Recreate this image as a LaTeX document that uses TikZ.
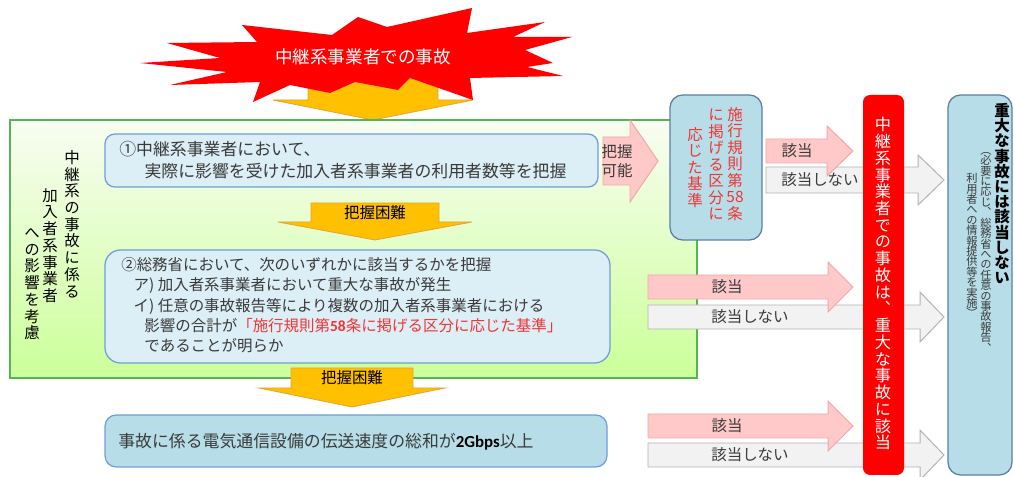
\documentclass[tikz,border=0pt]{standalone}
\usepackage{fontspec}
\setmainfont{Noto Sans CJK JP}
\newfontfamily\tatefont[RawFeature=+vert]{Noto Sans CJK JP}
\newfontfamily\latinfont{Carlito}
\usetikzlibrary{fit,positioning}

\definecolor{boxblue}{HTML}{DCEEF6}
\definecolor{boxline}{HTML}{6E9FDB}
\definecolor{boxdeep}{HTML}{B7DEE8}
\definecolor{boxdeepline}{HTML}{5A7FA6}
\definecolor{greenline}{HTML}{55B455}
\definecolor{greentop}{HTML}{F8FDF2}
\definecolor{greenfill}{HTML}{CCFF99}
\definecolor{arrowyellow}{HTML}{FFC000}
\definecolor{arrowyellowline}{HTML}{E5A33A}
\definecolor{pinkfill}{HTML}{FFC9C9}
\definecolor{pinkline}{HTML}{F4A6A6}
\definecolor{greyfill}{HTML}{F2F2F2}
\definecolor{greyline}{HTML}{B3B3B3}
\definecolor{textgrey}{HTML}{3A3A3A}
\definecolor{rulered}{HTML}{F03535}

% one character per line, for vertical text
\def\tateend{\tateend}
\def\tatestep#1{\ifx\tateend#1\else\hbox to 1.4em{\hss#1\hss}\expandafter\tatestep\fi}
\newcommand{\tatechars}[1]{\vbox{\lineskiplimit=-20pt\lineskip=0pt\tatestep#1\tateend}}

% block arrows: style, x0, x1, xtip, ymid, body half, head half
\newcommand{\rightblock}[7]{\path[#1] (#2,#5-#6) -- (#3,#5-#6) -- (#3,#5-#7) -- (#4,#5) -- (#3,#5+#7) -- (#3,#5+#6) -- (#2,#5+#6) -- cycle;}
% style, xc, ytop, ybase, ytip, body half, head half
\newcommand{\downblock}[7]{\path[#1] (#2-#6,#3) -- (#2+#6,#3) -- (#2+#6,#4) -- (#2+#7,#4) -- (#2,#5) -- (#2-#7,#4) -- (#2-#6,#4) -- cycle;}

\begin{document}
\begin{tikzpicture}[
    x=0.025cm, y=-0.025cm,
    every node/.style={inner sep=0, text=textgrey},
    tate/.style n args={2}{font=\tatefont\fontsize{#1}{#2}\selectfont},
    yoko/.style n args={2}{align=left, font=\fontsize{#1}{#2}\selectfont},
    lightbox/.style={draw=boxline, line width=0.9pt, fill=boxblue, rounded corners=7pt},
    deepbox/.style={draw=boxdeepline, line width=0.9pt, fill=boxdeep, rounded corners=8pt},
    holdarrow/.style={fill=arrowyellow, draw=arrowyellowline, line width=0.6pt},
    yesarrow/.style={fill=pinkfill, draw=pinkline, line width=0.7pt},
    noarrow/.style={fill=greyfill, draw=greyline, line width=0.7pt},
    arrowlabel/.style={font=\fontsize{11}{13}\selectfont}]

\useasboundingbox (0,0) rectangle (1014,477);

% accident burst
\downblock{holdarrow}{373}{70}{100}{120}{65}{100}
\fill[red] (167,43) -- (257,42) -- (242,25) -- (332,35) -- (358,17) -- (387,27) -- (472,8) -- (467,33)
  -- (545,22) -- (513,37) -- (572,37) -- (525,50) -- (553,63) -- (527,67) -- (563,76) -- (470,78)
  -- (473,100) -- (410,78) -- (398,90) -- (355,82) -- (330,93) -- (290,85) -- (253,102) -- (260,82)
  -- (170,85) -- (227,72) -- (140,63) -- (220,58) -- cycle;
\node[text=white, font=\fontsize{12.5}{14}\selectfont] (accident) at (363,57) {中継系事業者での事故};

% impact on subscriber carriers
\node[draw=greenline, line width=1.1pt, top color=greentop, bottom color=greenfill, fit={(10,120) (697,378)}] (impact) {};
\node[tate={11}{11.9}, text=black, anchor=north] (impactA) at (72,150) {\tatechars{中継系の事故に係る}};
\node[tate={11}{11.9}, text=black, anchor=north] (impactB) at (50,188) {\tatechars{加入者系事業者}};
\node[tate={11}{11.9}, text=black, anchor=north] (impactC) at (32,228) {\tatechars{への影響を考慮}};

\node[lightbox, fit={(105,134) (598,187)}] (relayCount) {};
\node[yoko={12}{15.6}, anchor=north west] (relayCountText) at (119,141)
  {①中継系事業者において、\\\hspace*{1.5em}実際に影響を受けた加入者系事業者の利用者数等を把握};

\rightblock{yesarrow}{603}{630}{658}{161}{24}{41}
\node[yoko={11}{13.5}] (possible) at (617,161) {把握\\可能};

\node[deepbox, rounded corners=9pt, fit={(670,95) (762,240)}] (criteria) {};
\node[tate={11}{11.7}, text=rulered, anchor=north] (criteriaA) at (735,107) {\tatechars{施行規則第{58}条}};
\node[tate={11}{11.7}, text=rulered, anchor=north] (criteriaB) at (716,109) {\tatechars{に掲げる区分に}};
\node[tate={11}{11.7}, text=rulered, anchor=north] (criteriaC) at (695,127) {\tatechars{応じた基準}};

\node[lightbox, rounded corners=11pt, fit={(105,250) (610,363)}] (ministry) {};
\node[yoko={11}{14.5}, anchor=north west] (ministryText) at (121,257)
  {②総務省において、次のいずれかに該当するかを把握\\
   \hspace*{0.8em}ア) 加入者系事業者において重大な事故が発生\\
   \hspace*{0.8em}イ) 任意の事故報告等により複数の加入者系事業者における\\
   \hspace*{1.5em}影響の合計が\textcolor{rulered}{「施行規則第{\latinfont\bfseries 58}条に掲げる区分に応じた基準」}\\
   \hspace*{1.5em}であることが明らか};

% hard to grasp
\downblock{holdarrow}{375}{203}{222}{240}{64}{97}
\node[arrowlabel, text=black] (hardA) at (375,213) {把握困難};
\downblock{holdarrow}{352}{368}{388}{407}{61}{93}
\node[arrowlabel, text=black] (hardB) at (352,378) {把握困難};

\node[deepbox, draw=boxline, fit={(105,415) (607,467)}] (speed) {};
\node[yoko={12}{14}, anchor=west] (speedText) at (118,442)
  {事故に係る電気通信設備の伝送速度の総和が{\latinfont\bfseries\color{black}2Gbps}以上};

% applies / does not apply
\rightblock{noarrow}{766}{918}{944}{180}{13}{25}
\rightblock{yesarrow}{766}{827}{853}{151}{12}{25}
\node[arrowlabel] (yesA) at (797,151) {該当};
\node[arrowlabel] (noA) at (820,180) {該当しない};
\rightblock{noarrow}{648}{920}{944}{317}{12}{25}
\rightblock{yesarrow}{648}{828}{853}{287}{12}{25}
\node[arrowlabel] (yesB) at (727,287) {該当};
\node[arrowlabel] (noB) at (750,317) {該当しない};
\rightblock{noarrow}{648}{920}{944}{455}{12}{25}
\rightblock{yesarrow}{648}{828}{853}{426}{12}{25}
\node[arrowlabel] (yesC) at (727,426) {該当};
\node[arrowlabel] (noC) at (750,455) {該当しない};

% outcomes
\node[fill=red, rounded corners=5pt, fit={(863,95) (904,475)}] (serious) {};
\node[tate={11.5}{11.9}, text=white, anchor=north] (seriousText) at (883,117)
  {\tatechars{中継系事業者での事故は、重大な事故に該当}};

\node[deepbox, rounded corners=9pt, fit={(948,95) (1012,475)}] (notSerious) {};
\node[font=\tatefont\bfseries\fontsize{11}{10.8}\selectfont, text=black, anchor=north] (notSeriousA) at (1002,103)
  {\tatechars{重大な事故には該当しない}};
\node[font=\tatefont\fontsize{8}{7.4}\selectfont, anchor=north] (notSeriousB) at (986,152)
  {\tatechars{（必要に応じ、総務省への任意の事故報告、}};
\node[font=\tatefont\fontsize{8}{7.4}\selectfont, anchor=north] (notSeriousC) at (972,173)
  {\tatechars{利用者への情報提供等を実施）}};

\end{tikzpicture}
\end{document}
